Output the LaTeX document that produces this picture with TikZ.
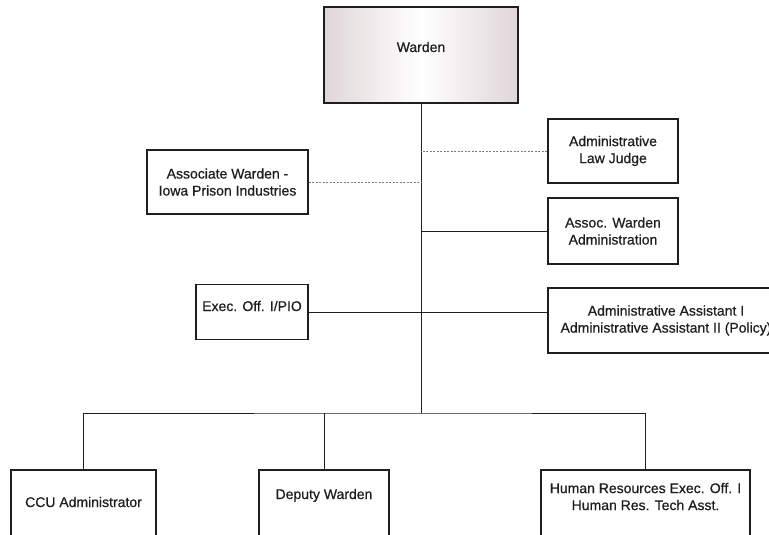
\documentclass[tikz,border=0pt]{standalone}
\usepackage{fontspec}
\setmainfont{Liberation Sans}
\newfontfamily\orgfont{Liberation Sans}[FakeBold=0.6]
\definecolor{inkgray}{RGB}{30,30,30}
\definecolor{wardenpink}{RGB}{224,214,216}
\definecolor{dotgray}{RGB}{125,125,125}
\begin{document}
\begin{tikzpicture}[x=1pt, y=-1pt,
  post/.style={draw=inkgray, line width=1.4pt, fill=white, align=center, inner sep=0pt, text=inkgray, font=\orgfont\fontsize{14}{17}\selectfont},
  link/.style={draw=inkgray, line width=1pt},
  dotlink/.style={draw=dotgray, line width=1pt, dash pattern=on 2pt off 1.5pt}]
\useasboundingbox (0,0) rectangle (769,535);
\clip (0,0) rectangle (769,535);
\fill[white] (0,0) rectangle (769,535);
\node[post, minimum width=194pt, minimum height=96pt, left color=wardenpink, right color=wardenpink, middle color=white, text height=10pt, text depth=16pt] (warden) at (421,55) {Warden};
\node[post, minimum width=161pt, minimum height=64pt] (iowa) at (227.5,182) {Associate Warden -\\Iowa Prison Industries};
\node[post, minimum width=130pt, minimum height=64pt] (judge) at (613,151) {Administrative\\Law Judge};
\node[post, minimum width=130pt, minimum height=66pt] (admin) at (613,231) {Assoc. Warden\\Administration};
\node[post, minimum width=112pt, minimum height=55pt, text height=10pt, text depth=12pt] (pio) at (252,312) {Exec. Off. I/PIO};
\node[post, minimum width=236pt, minimum height=65pt] (assist) at (666,320.5) {Administrative Assistant I\\Administrative Assistant II (Policy)};
\node[post, minimum width=145pt, minimum height=75pt, text height=10pt, text depth=11pt] (ccu) at (83.5,507.5) {CCU Administrator};
\node[post, minimum width=130pt, minimum height=75pt, text height=10pt, text depth=27pt] (deputy) at (324,507.5) {Deputy Warden};
\node[post, minimum width=209pt, minimum height=75pt, text depth=22pt] (hr) at (645.5,507.5) {Human Resources Exec. Off. I\\Human Res. Tech Asst.};
\coordinate (bus) at (421,413);
\draw[link] (warden) -- (bus);
\draw[link] (ccu.north) |- (bus) -| (hr.north);
\draw[link] (deputy.north) -- (deputy.north |- bus);
\draw[dotlink] (judge.west) -- (judge.west -| bus);
\draw[dotlink] (iowa.east) -- (iowa.east -| bus);
\draw[link] (admin.west) -- (admin.west -| bus);
\draw[link] (pio.east) -- (pio.east -| assist.west);
\end{tikzpicture}
\end{document}
